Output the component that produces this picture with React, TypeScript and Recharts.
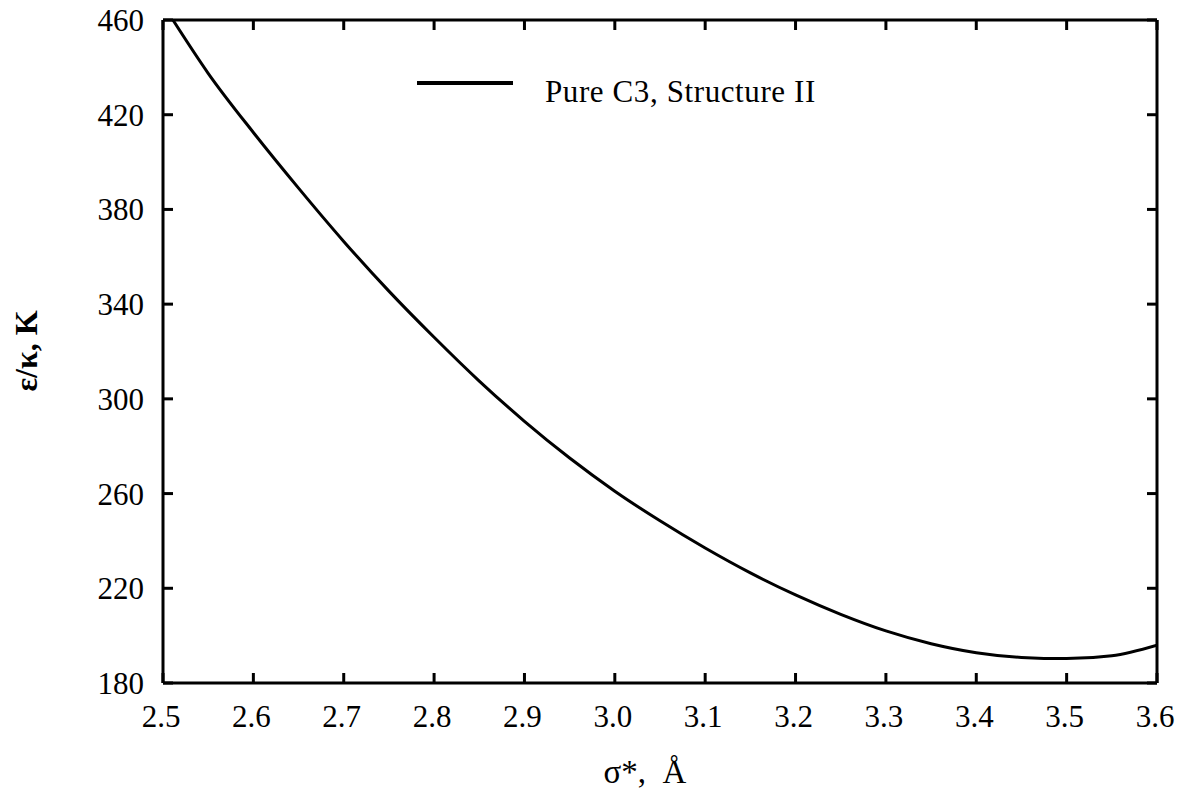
import React from 'react';
import { LineChart, Line, XAxis, YAxis, Legend } from 'recharts';

const sigma = [2.511, 2.55, 2.6, 2.65, 2.7, 2.75, 2.8, 2.85, 2.9, 2.95, 3.0, 3.05, 3.1, 3.15, 3.2, 3.25, 3.3, 3.35, 3.4, 3.45, 3.5, 3.55, 3.6];
const epsK = [460, 437.5, 412.5, 389, 366.5, 345.5, 326, 307.5, 290.5, 275, 261, 248.5, 237, 226.5, 217.2, 209, 202, 196.6, 192.8, 190.8, 190.3, 191.5, 196];
const xTicks = [2.5, 2.6, 2.7, 2.8, 2.9, 3.0, 3.1, 3.2, 3.3, 3.4, 3.5, 3.6];
const yTicks = [180, 220, 260, 300, 340, 380, 420, 460];
const seriesName = 'Pure C3, Structure II';

const data = sigma.map((s, i) => ({ s, e: epsK[i] }));

const FONT = '"Liberation Serif", "DejaVu Serif", serif';
const TICK_LEN = 10;

const BottomTick = (props: any) => {
  const { x, y, payload } = props;
  return (
    <g>
      <line x1={x} y1={y} x2={x} y2={y - TICK_LEN} stroke="#000" strokeWidth={3} />
      <text x={x - 2} y={y + 44} textAnchor="middle" fontFamily={FONT} fontSize={31} fill="#000">
        {Number(payload.value).toFixed(1)}
      </text>
    </g>
  );
};

const TopTick = (props: any) => {
  const { x, y } = props;
  return <line x1={x} y1={y} x2={x} y2={y + TICK_LEN} stroke="#000" strokeWidth={3} />;
};

const LeftTick = (props: any) => {
  const { x, y, payload } = props;
  return (
    <g>
      <line x1={x} y1={y} x2={x + TICK_LEN} y2={y} stroke="#000" strokeWidth={3} />
      <text x={x - 19} y={y + 11} textAnchor="end" fontFamily={FONT} fontSize={31} fill="#000">
        {payload.value}
      </text>
    </g>
  );
};

const RightTick = (props: any) => {
  const { x, y } = props;
  return <line x1={x} y1={y} x2={x - TICK_LEN} y2={y} stroke="#000" strokeWidth={3} />;
};

const XTitle = () => (
  <text x={645} y={783} textAnchor="middle" fontFamily={FONT} fontSize={33} fill="#000" xmlSpace="preserve">
    {'σ*,  Å'}
  </text>
);

const YTitle = () => (
  <text
    x={0}
    y={0}
    transform="translate(37 351) rotate(-90)"
    textAnchor="middle"
    fontFamily={FONT}
    fontSize={32}
    fontWeight="bold"
    fill="#000"
  >
    ε/κ, K
  </text>
);

const LegendContent = () => (
  <div style={{ display: 'flex', alignItems: 'center', fontFamily: FONT, fontSize: 31, color: '#000', whiteSpace: 'nowrap' }}>
    <svg width={96} height={10} style={{ display: 'block' }}>
      <line x1={0} y1={5} x2={96} y2={5} stroke="#000" strokeWidth={4} />
    </svg>
    <span style={{ marginLeft: 32, lineHeight: '30px', position: 'relative', top: 9, letterSpacing: 0.6 }}>{seriesName}</span>
  </div>
);

export default function App() {
  return (
    <div style={{ position: 'absolute', left: 0, top: 0, background: '#fff' }}>
      <LineChart width={1182} height={794} data={data} margin={{ top: 0, right: 0, bottom: 0, left: 0 }}>
        <XAxis
          xAxisId="bottom"
          dataKey="s"
          type="number"
          domain={[2.5, 3.6]}
          ticks={xTicks}
          allowDataOverflow
          orientation="bottom"
          height={111}
          axisLine={{ stroke: '#000', strokeWidth: 3 }}
          tickLine={false}
          tickSize={0}
          tickMargin={0}
          tick={<BottomTick />}
          interval={0}
          label={<XTitle />}
        />
        <XAxis
          xAxisId="top"
          dataKey="s"
          type="number"
          domain={[2.5, 3.6]}
          ticks={xTicks}
          allowDataOverflow
          orientation="top"
          height={20}
          axisLine={{ stroke: '#000', strokeWidth: 3 }}
          tickLine={false}
          tickSize={0}
          tickMargin={0}
          tick={<TopTick />}
          interval={0}
        />
        <YAxis
          yAxisId="left"
          type="number"
          domain={[180, 460]}
          ticks={yTicks}
          allowDataOverflow
          orientation="left"
          width={163}
          axisLine={{ stroke: '#000', strokeWidth: 3 }}
          tickLine={false}
          tickSize={0}
          tickMargin={0}
          tick={<LeftTick />}
          interval={0}
          label={<YTitle />}
        />
        <YAxis
          yAxisId="right"
          type="number"
          domain={[180, 460]}
          ticks={yTicks}
          allowDataOverflow
          orientation="right"
          width={25}
          axisLine={{ stroke: '#000', strokeWidth: 3 }}
          tickLine={false}
          tickSize={0}
          tickMargin={0}
          tick={<RightTick />}
          interval={0}
        />
        <Legend
          layout="horizontal"
          verticalAlign="middle"
          align="center"
          content={<LegendContent />}
          wrapperStyle={{ position: 'absolute', left: 417, top: 68, width: 'auto' }}
        />
        <Line
          xAxisId="bottom"
          yAxisId="left"
          type="monotone"
          dataKey="e"
          name={seriesName}
          stroke="#000"
          strokeWidth={3}
          dot={false}
          isAnimationActive={false}
        />
      </LineChart>
    </div>
  );
}
